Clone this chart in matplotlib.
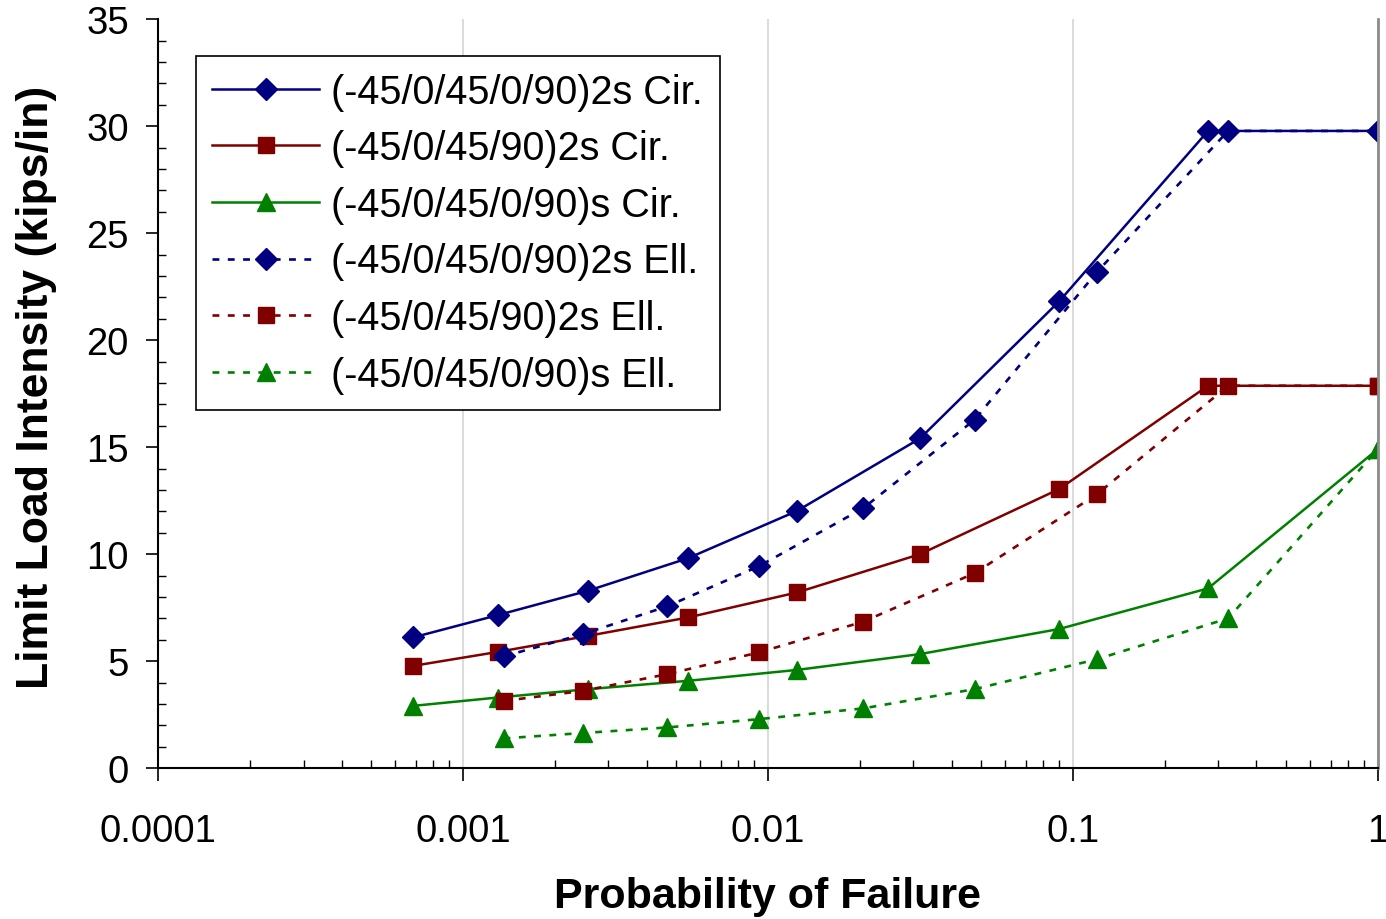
import matplotlib
matplotlib.use("Agg")
import matplotlib.pyplot as plt
from matplotlib.ticker import LogLocator, NullFormatter, MultipleLocator, FixedLocator

plt.rcParams['font.family'] = ['Liberation Sans', 'DejaVu Sans']

# probability of failure (x) for the circular and elliptical cases
pf_cir = [6.87e-4, 1.30e-3, 2.57e-3, 5.47e-3, 1.246e-2, 3.155e-2, 9.01e-2, 0.2775, 1.0]
pf_ell = [1.359e-3, 2.472e-3, 4.67e-3, 9.36e-3, 2.05e-2, 4.76e-2, 0.120, 0.323, 1.0]

# limit load intensity (kips/in)
cir_2s_090 = [6.11, 7.15, 8.29, 9.81, 12.02, 15.41, 21.81, 29.78, 29.78]
cir_2s_90 = [4.78, 5.43, 6.18, 7.04, 8.21, 10.0, 13.04, 17.87, 17.87]
cir_s_090 = [2.91, 3.30, 3.69, 4.08, 4.59, 5.33, 6.50, 8.40, 14.91]
ell_2s_090 = [5.22, 6.26, 7.56, 9.44, 12.14, 16.28, 23.19, 29.78, 29.78]
ell_2s_90 = [3.14, 3.61, 4.39, 5.41, 6.84, 9.11, 12.80, 17.87, 17.87]
ell_s_090 = [1.39, 1.64, 1.90, 2.29, 2.79, 3.69, 5.09, 7.00, 14.91]

labels = ["(-45/0/45/0/90)2s Cir.", "(-45/0/45/90)2s Cir.", "(-45/0/45/0/90)s Cir.",
          "(-45/0/45/0/90)2s Ell.", "(-45/0/45/90)2s Ell.", "(-45/0/45/0/90)s Ell."]
xticks = [0.0001, 0.001, 0.01, 0.1, 1]
xticklabels = ["0.0001", "0.001", "0.01", "0.1", "1"]

navy, maroon, green = "#000080", "#800000", "#008000"
dots = (0, (2.6, 3.2))

fig = plt.figure(figsize=(13.86, 9.2), dpi=100)
ax = fig.add_axes([0.114, 0.164, 0.8801, 0.814])

ax.plot(pf_cir, cir_2s_090, color=navy, lw=1.8, marker="D", ms=11.5, label=labels[0])
ax.plot(pf_cir, cir_2s_90, color=maroon, lw=1.8, marker="s", ms=11.5, label=labels[1])
ax.plot(pf_cir, cir_s_090, color=green, lw=1.8, marker="^", ms=13, label=labels[2])
ax.plot(pf_ell, ell_2s_090, color=navy, lw=1.9, ls=dots, marker="D", ms=11.5, label=labels[3])
ax.plot(pf_ell, ell_2s_90, color=maroon, lw=1.9, ls=dots, marker="s", ms=11.5, label=labels[4])
ax.plot(pf_ell, ell_s_090, color=green, lw=1.9, ls=dots, marker="^", ms=13, label=labels[5])

ax.set_xscale("log")
ax.set_xlim(0.0001, 1)
ax.set_ylim(0, 35)
ax.xaxis.set_major_locator(FixedLocator(xticks))
ax.set_xticklabels(xticklabels)
ax.xaxis.set_minor_locator(LogLocator(base=10, subs=range(2, 10)))
ax.xaxis.set_minor_formatter(NullFormatter())
ax.yaxis.set_major_locator(MultipleLocator(5))
ax.yaxis.set_minor_locator(MultipleLocator(1))

ax.tick_params(axis="both", which="major", direction="out", length=9, width=1.2,
               labelsize=27.5, pad=12, colors="black")
ax.tick_params(axis="x", which="major", pad=23)
ax.tick_params(axis="both", which="minor", direction="in", length=6, width=1)

ax.grid(True, axis="x", which="major", color="#d4d4d4", lw=1.2)
ax.set_axisbelow(True)
ax.spines["top"].set_visible(False)
ax.spines["right"].set_color("#8c8c8c")
ax.spines["right"].set_linewidth(2)
ax.spines["left"].set_linewidth(1.5)
ax.spines["bottom"].set_linewidth(1.5)

ax.set_xlabel("Probability of Failure", fontsize=31, fontweight="bold", labelpad=20)
ax.set_ylabel("Limit Load Intensity (kips/in)", fontsize=32, fontweight="bold")
ax.yaxis.set_label_coords(-0.083, 0.51)

leg = ax.legend(loc="upper left", bbox_to_anchor=(0.031, 0.951), fontsize=28.5,
                numpoints=1, handlelength=2.7, handletextpad=0.3, borderpad=0.42,
                labelspacing=0.47, fancybox=False, framealpha=1, edgecolor="black",
                borderaxespad=0)
leg.get_frame().set_linewidth(1.2)

fig.savefig("out.png", dpi=100)
